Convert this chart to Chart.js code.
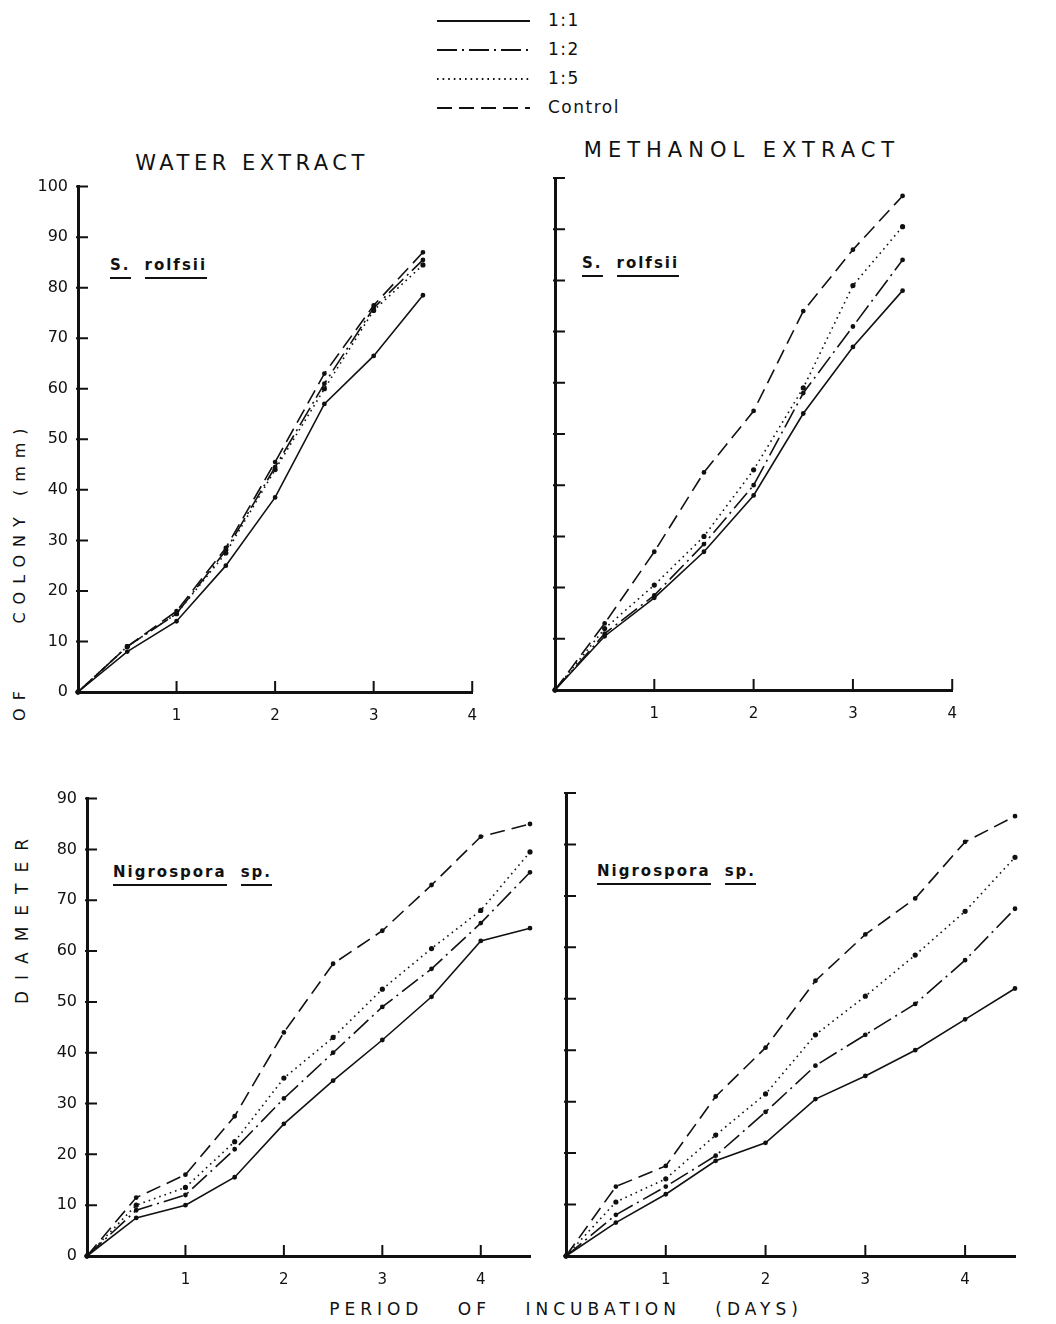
<!DOCTYPE html>
<html>
<head>
<meta charset="utf-8">
<script src="https://cdn.jsdelivr.net/npm/chart.js@4.4.1/dist/chart.umd.min.js"></script>
<style>
  body { margin: 0; background: #fff; width: 1056px; height: 1324px; position: relative; overflow: hidden;
         font-family: "DejaVu Sans", "Liberation Sans", sans-serif; color: #111; }
  canvas { position: absolute; }
  .txt { position: absolute; white-space: nowrap; line-height: 1; }
  .title { font-size: 21px; letter-spacing: 4.5px; transform: translate(-50%, -50%); }
  .org { font-size: 15px; font-weight: bold; letter-spacing: 2px; }
  .org span { border-bottom: 2px solid #111; padding-bottom: 3px; }
  .org span + span { margin-left: 14px; }
  .ylab { font-size: 16px; letter-spacing: 8px; transform: translate(-50%, -50%) rotate(-90deg); }
  .xlab { font-size: 17px; letter-spacing: 5px; word-spacing: 24px; transform: translate(-50%, -50%); }
  #legend { position: absolute; left: 430px; top: 4px; }
</style>
</head>
<body>

<svg id="legend" width="230" height="116"></svg>

<div class="txt title" style="left:252px; top:163px;">WATER EXTRACT</div>
<div class="txt title" style="left:742px; top:150px; letter-spacing:6px;">METHANOL EXTRACT</div>

<div class="txt org" style="left:110px; top:258px;"><span>S.</span><span>rolfsii</span></div>
<div class="txt org" style="left:582px; top:256px;"><span>S.</span><span>rolfsii</span></div>
<div class="txt org" style="left:113px; top:865px;"><span>Nigrospora</span><span>sp.</span></div>
<div class="txt org" style="left:597px; top:864px;"><span>Nigrospora</span><span>sp.</span></div>

<div class="txt ylab" style="left:20px; top:522px;">COLONY (mm)</div>
<div class="txt ylab" style="left:20px; top:702px;">OF</div>
<div class="txt ylab" style="left:22px; top:916px; font-size:17px; letter-spacing:11px;">DIAMETER</div>
<div class="txt xlab" style="left:566px; top:1309px;">PERIOD OF INCUBATION (DAYS)</div>

<canvas id="waterRolfsii" style="left:28px; top:167px;" width="464" height="555"></canvas>
<canvas id="methRolfsii" style="left:505px; top:168px;" width="467" height="552"></canvas>
<canvas id="waterNigro" style="left:37px; top:779px;" width="508" height="507"></canvas>
<canvas id="methNigro" style="left:516px; top:783px;" width="514" height="503"></canvas>

<script>
// days of incubation
const days = [0, 0.5, 1, 1.5, 2, 2.5, 3, 3.5];
const daysLong = [0, 0.5, 1, 1.5, 2, 2.5, 3, 3.5, 4, 4.5];

// series names
const seriesNames = ['1:1', '1:2', '1:5', 'Control'];

// S. rolfsii, water extract
const waterRolfsii11 = [0, 8, 14, 25, 38.5, 57, 66.5, 78.5];
const waterRolfsii12 = [0, 9, 15.5, 28, 44.5, 61, 76, 85.5];
const waterRolfsii15 = [0, 9, 15.5, 27.5, 44, 60, 75.5, 84.5];
const waterRolfsiiCtrl = [0, 9, 16, 28.5, 45.5, 63, 76.5, 87];

// S. rolfsii, methanol extract
const methRolfsii11 = [0, 10.5, 18, 27, 38, 54, 67, 78];
const methRolfsii12 = [0, 11, 18.5, 28.5, 40, 58, 71, 84];
const methRolfsii15 = [0, 12, 20.5, 30, 43, 59, 79, 90.5];
const methRolfsiiCtrl = [0, 13, 27, 42.5, 54.5, 74, 86, 96.5];

// Nigrospora sp., water extract
const waterNigro11 = [0, 7.5, 10, 15.5, 26, 34.5, 42.5, 51, 62, 64.5];
const waterNigro12 = [0, 9, 12, 21, 31, 40, 49, 56.5, 65.5, 75.5];
const waterNigro15 = [0, 10, 13.5, 22.5, 35, 43, 52.5, 60.5, 68, 79.5];
const waterNigroCtrl = [0, 11.5, 16, 27.5, 44, 57.5, 64, 73, 82.5, 85];

// Nigrospora sp., methanol extract
const methNigro11 = [0, 6.5, 12, 18.5, 22, 30.5, 35, 40, 46, 52];
const methNigro12 = [0, 8, 13.5, 19.5, 28, 37, 43, 49, 57.5, 67.5];
const methNigro15 = [0, 10.5, 15, 23.5, 31.5, 43, 50.5, 58.5, 67, 77.5];
const methNigroCtrl = [0, 13.5, 17.5, 31, 40.5, 53.5, 62.5, 69.5, 80.5, 85.5];

// y tick values
const yTicksRolfsii = [0, 10, 20, 30, 40, 50, 60, 70, 80, 90, 100];
const yTicksNigro = [0, 10, 20, 30, 40, 50, 60, 70, 80, 90];
const xTicks = [1, 2, 3, 4];

const dashes = {
    '1:1': [],
    '1:2': [20, 5, 2, 5],
    '1:5': [1.6, 4],
    'Control': [15, 7]
};

// ticks drawn on the inside of the axes, like the original figure
const inwardTicks = {
    id: 'inwardTicks',
    afterDraw(chart, args, opts) {
        const { ctx, chartArea, scales } = chart;
        ctx.save();
        ctx.strokeStyle = '#111';
        ctx.lineWidth = 2;
        ctx.beginPath();
        (opts.y || []).forEach(v => {
            if (v === 0) return;
            const py = scales.y.getPixelForValue(v);
            ctx.moveTo(chartArea.left - 2, py);
            ctx.lineTo(chartArea.left + 10, py);
        });
        (opts.x || []).forEach(v => {
            const px = scales.x.getPixelForValue(v);
            ctx.moveTo(px, chartArea.bottom);
            ctx.lineTo(px, chartArea.bottom - 11);
        });
        ctx.stroke();
        ctx.restore();
    }
};

function makeDataset(name, xs, ys) {
    return {
        label: name,
        data: xs.map((d, i) => ({ x: d, y: ys[i] })),
        borderColor: '#111',
        backgroundColor: '#111',
        borderWidth: 1.6,
        borderDash: dashes[name],
        pointRadius: name === '1:5' ? 1.8 : 1.6,
        pointHoverRadius: 0,
        tension: 0,
        fill: false,
        clip: false
    };
}

function buildChart(id, xs, series, xMax, yMax, yTicks, showYLabels) {
    const ctx = document.getElementById(id).getContext('2d');
    return new Chart(ctx, {
        type: 'line',
        data: {
            datasets: series.map((ys, i) => makeDataset(seriesNames[i], xs, ys))
        },
        options: {
            responsive: false,
            animation: false,
            events: [],
            layout: { padding: { left: 0, right: 10, top: 10, bottom: 0 } },
            scales: {
                x: {
                    type: 'linear',
                    min: 0,
                    max: xMax,
                    grid: { display: false, drawTicks: false },
                    border: { display: true, color: '#111', width: 3 },
                    ticks: {
                        stepSize: 1,
                        autoSkip: false,
                        maxRotation: 0,
                        padding: 15,
                        color: '#111',
                        font: { family: 'DejaVu Sans', size: 15 },
                        callback: v => (v > 0 && Number.isInteger(v)) ? v : ''
                    },
                    afterFit: s => { s.height = 30; }
                },
                y: {
                    min: 0,
                    max: yMax,
                    grid: { display: false, drawTicks: false },
                    border: { display: true, color: '#111', width: 3 },
                    ticks: {
                        display: showYLabels,
                        stepSize: 10,
                        padding: 10,
                        color: '#111',
                        font: { family: 'DejaVu Sans', size: 16 }
                    },
                    afterFit: s => { s.width = 50; }
                }
            },
            plugins: {
                legend: { display: false },
                tooltip: { enabled: false },
                inwardTicks: { y: yTicks, x: xTicks }
            }
        },
        plugins: [inwardTicks]
    });
}

function drawLegend() {
    const svg = document.getElementById('legend');
    const ns = 'http://www.w3.org/2000/svg';
    const rowsY = [16, 45, 74, 103];
    seriesNames.forEach((name, i) => {
        const line = document.createElementNS(ns, 'line');
        line.setAttribute('x1', 7);
        line.setAttribute('x2', 100);
        line.setAttribute('y1', rowsY[i] + 1);
        line.setAttribute('y2', rowsY[i] + 1);
        line.setAttribute('stroke', '#111');
        line.setAttribute('stroke-width', name === '1:5' ? 2 : 2.2);
        if (dashes[name].length) line.setAttribute('stroke-dasharray', dashes[name].join(' '));
        svg.appendChild(line);
        const t = document.createElementNS(ns, 'text');
        t.setAttribute('x', 118);
        t.setAttribute('y', rowsY[i] + 6);
        t.setAttribute('font-family', 'DejaVu Sans');
        t.setAttribute('font-size', '17');
        t.setAttribute('letter-spacing', '1.5');
        t.setAttribute('fill', '#111');
        t.textContent = name;
        svg.appendChild(t);
    });
}

document.addEventListener("DOMContentLoaded", function() {
    drawLegend();
    buildChart('waterRolfsii', days,
        [waterRolfsii11, waterRolfsii12, waterRolfsii15, waterRolfsiiCtrl], 4, 100, yTicksRolfsii, true);
    buildChart('methRolfsii', days,
        [methRolfsii11, methRolfsii12, methRolfsii15, methRolfsiiCtrl], 4, 100, yTicksRolfsii, false);
    buildChart('waterNigro', daysLong,
        [waterNigro11, waterNigro12, waterNigro15, waterNigroCtrl], 4.5, 90, yTicksNigro, true);
    buildChart('methNigro', daysLong,
        [methNigro11, methNigro12, methNigro15, methNigroCtrl], 4.5, 90, yTicksNigro, false);
});
</script>
</body>
</html>
